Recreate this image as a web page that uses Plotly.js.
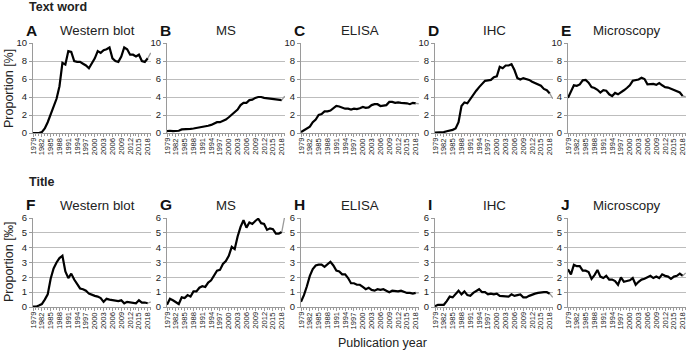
<!DOCTYPE html>
<html>
<head>
<meta charset="utf-8">
<script src="https://cdn.plot.ly/plotly-3.0.1.min.js"></script>
<style>html,body{margin:0;padding:0;background:#fff;}#chart{width:687px;height:350px;}</style>
</head>
<body>
<div id="chart"></div>
<script>
const years = [1979,1980,1981,1982,1983,1984,1985,1986,1987,1988,1989,1990,1991,1992,1993,1994,1995,1996,1997,1998,1999,2000,2001,2002,2003,2004,2005,2006,2007,2008,2009,2010,2011,2012,2013,2014,2015,2016,2017,2018,2019];
const tickYears = [1979,1982,1985,1988,1991,1994,1997,2000,2003,2006,2009,2012,2015,2018];

const panelLetters = ["A","B","C","D","E","F","G","H","I","J"];
const panelTitles = ["Western blot","MS","ELISA","IHC","Microscopy","Western blot","MS","ELISA","IHC","Microscopy"];
const sectionTitles = ["Text word","Title"];
const yAxisTitles = ["Proportion [%]","Proportion [‰]"];
const xAxisTitle = "Publication year";

// Text word, proportion [%]
const textWesternBlot = [0,0,0,0.1,0.5,1.2,2.1,3.0,3.8,5.2,7.8,7.6,9.1,9.0,8.0,7.9,7.9,7.7,7.5,7.2,7.7,8.3,9.1,8.9,9.2,9.3,9.5,8.3,8.0,7.9,8.5,9.5,9.3,8.7,8.7,8.5,8.7,8.0,7.9,8.3,8.9];
const textMS = [0.2,0.25,0.2,0.2,0.25,0.4,0.4,0.45,0.45,0.5,0.55,0.6,0.65,0.7,0.8,0.9,1.05,1.2,1.2,1.35,1.5,1.75,2.0,2.25,2.6,3.1,3.35,3.35,3.65,3.7,3.9,4.0,4.0,3.9,3.85,3.8,3.75,3.7,3.7,3.65,4.1];
const textELISA = [0.1,0.3,0.5,0.7,1.2,1.5,2.0,2.1,2.4,2.4,2.5,2.8,3.0,2.95,2.8,2.7,2.7,2.6,2.7,2.65,2.75,2.9,2.8,2.85,3.1,3.2,3.2,3.0,3.05,3.1,3.45,3.45,3.35,3.4,3.35,3.35,3.3,3.2,3.35,3.3,3.25];
const textIHC = [0.05,0.05,0.05,0.1,0.2,0.25,0.35,0.5,1.2,3.0,3.4,3.3,3.8,4.3,4.7,5.1,5.4,5.8,5.85,5.9,6.2,6.3,7.35,7.2,7.5,7.5,7.65,7.0,6.1,5.95,6.1,6.0,5.9,5.7,5.55,5.35,5.25,4.9,4.75,4.4,3.8];
const textMicroscopy = [3.9,4.7,5.3,5.25,5.4,5.85,5.9,5.6,5.1,5.0,4.8,4.5,4.75,4.7,4.3,4.1,4.45,4.3,4.5,4.75,5.0,5.3,5.8,5.85,5.95,6.15,6.0,5.4,5.4,5.45,5.35,5.55,5.3,5.1,5.05,4.9,4.8,4.6,4.5,4.1,4.05];

// Title, proportion [‰]
const titleWesternBlot = [0.02,0.02,0.1,0.2,0.5,0.85,1.9,2.6,3.0,3.3,3.45,2.4,1.95,2.25,1.85,1.55,1.25,1.2,1.1,0.9,0.8,0.75,0.7,0.6,0.35,0.55,0.5,0.45,0.4,0.4,0.45,0.25,0.35,0.3,0.25,0.25,0.45,0.3,0.3,0.25,0.35];
const titleMS = [0.15,0.55,0.45,0.3,0.2,0.65,0.6,0.8,0.7,1.05,1.05,1.3,1.4,1.35,1.65,1.8,2.1,2.45,2.5,2.9,3.1,3.45,4.05,3.9,4.75,5.4,5.85,5.35,5.7,5.6,5.8,5.95,5.65,5.6,5.2,5.3,5.25,4.95,4.95,5.05,6.1];
const titleELISA = [0.35,0.8,1.4,2.1,2.55,2.8,2.85,2.85,2.7,2.9,3.05,2.8,2.45,2.4,2.2,2.2,1.95,1.6,1.6,1.5,1.5,1.35,1.2,1.3,1.15,1.1,1.2,1.15,1.2,1.1,1.0,1.1,1.05,1.05,1.1,1.0,0.95,0.95,0.9,0.95,0.95];
const titleIHC = [0.05,0.15,0.15,0.15,0.4,0.7,0.65,0.9,1.1,0.85,1.05,0.8,0.75,0.95,1.05,1.2,1.0,1.0,0.85,0.9,0.85,0.9,0.75,0.75,0.75,0.7,0.85,0.75,0.8,0.85,0.65,0.65,0.75,0.85,0.9,0.95,1.0,1.0,1.0,0.9,0.65];
const titleMicroscopy = [2.55,2.2,2.85,2.75,2.75,2.45,2.45,2.35,1.9,2.15,2.5,2.05,1.95,2.1,1.85,1.85,1.75,1.5,2.0,1.7,1.75,1.8,1.95,1.5,1.7,1.85,1.9,2.0,2.1,1.95,2.05,1.95,2.2,2.1,2.05,1.9,2.05,2.1,2.25,2.1,2.3];

const seriesList = [textWesternBlot,textMS,textELISA,textIHC,textMicroscopy,titleWesternBlot,titleMS,titleELISA,titleIHC,titleMicroscopy];

// ---- layout geometry (pixels) ----
const W = 687, H = 350;
const colPx = [[33,151],[167,285],[301,419],[435,553],[568,686]];
const rowPx = [[43,133],[218,307]];
const yMax = [10,6], yDtick = [2,1];
const px = v => v / W;
const py = v => 1 - v / H;
const FONT = "Liberation Sans, Arial, sans-serif";
const GRID = "#bdbdbd";

const traces = [];
const layout = {
  width: W, height: H,
  margin: {l:0,r:0,t:0,b:0},
  paper_bgcolor: "#fff", plot_bgcolor: "#fff",
  showlegend: false,
  font: {family: FONT, color: "#222"},
  annotations: []
};

for (let i = 0; i < 10; i++) {
  const r = Math.floor(i / 5), c = i % 5;
  const n = i + 1;
  const xa = n === 1 ? "x" : "x" + n, ya = n === 1 ? "y" : "y" + n;
  const xk = n === 1 ? "xaxis" : "xaxis" + n, yk = n === 1 ? "yaxis" : "yaxis" + n;
  const vals = seriesList[i];
  const last = years.length - 1;
  traces.push({x: years.slice(0, last), y: vals.slice(0, last), xaxis: xa, yaxis: ya,
    type: "scatter", mode: "lines", line: {color: "#000", width: 2.2}, hoverinfo: "skip", cliponaxis: false});
  traces.push({x: years.slice(last - 1), y: vals.slice(last - 1), xaxis: xa, yaxis: ya,
    type: "scatter", mode: "lines", line: {color: "#9a9a9a", width: 1.3}, hoverinfo: "skip", cliponaxis: false});

  layout[xk] = {
    domain: [px(colPx[c][0]), px(colPx[c][1])],
    anchor: ya, range: [1979, 2019.1], fixedrange: true,
    tickmode: "array", tickvals: tickYears, showticklabels: false,
    ticks: "outside", ticklen: 3, tickcolor: "#9a9a9a", tickwidth: 1,
    minor: {dtick: 1, tick0: 1979, ticks: "outside", ticklen: 2, tickcolor: "#9a9a9a", showgrid: false},
    showline: true, linecolor: "#9a9a9a", linewidth: 1,
    showgrid: false, zeroline: false
  };
  layout[yk] = {
    domain: [py(rowPx[r][1]), py(rowPx[r][0])],
    anchor: xa, range: [0, yMax[r]], dtick: yDtick[r], tick0: 0, fixedrange: true,
    tickfont: {size: 9.5, family: FONT, color: "#222"},
    ticks: "outside", ticklen: 3, tickcolor: "#9a9a9a",
    showline: true, linecolor: "#9a9a9a", linewidth: 1,
    showgrid: true, gridcolor: GRID, gridwidth: 1, zeroline: false
  };

  // rotated year labels, positioned through the x axis scale
  tickYears.forEach(yr => {
    layout.annotations.push({xref: xa, yref: "paper", x: yr, y: py(rowPx[r][1] + 3),
      xanchor: "center", yanchor: "top", showarrow: false, textangle: -90,
      text: String(yr), font: {size: 7.6, family: FONT, color: "#222"}});
  });

  // panel letter
  layout.annotations.push({xref: "paper", yref: "paper", x: px(colPx[c][0] - 9), y: py(r === 0 ? 30 : 204),
    xanchor: "left", yanchor: "middle", showarrow: false, text: "<b>" + panelLetters[i] + "</b>",
    font: {size: 15.5, family: FONT, color: "#111"}});
  // panel title
  const cx = (colPx[c][0] + colPx[c][1]) / 2 + (c === 0 ? 5 : 0);
  layout.annotations.push({xref: "paper", yref: "paper", x: px(cx), y: py(r === 0 ? 31 : 205),
    xanchor: "center", yanchor: "middle", showarrow: false, text: panelTitles[i],
    font: {size: 13.3, family: FONT, color: "#222"}});
}

// section headers
layout.annotations.push({xref:"paper",yref:"paper",x:px(27),y:py(7),xanchor:"left",yanchor:"middle",showarrow:false,
  text:"<b>"+sectionTitles[0]+"</b>",font:{size:12.5,family:FONT,color:"#222"}});
layout.annotations.push({xref:"paper",yref:"paper",x:px(27),y:py(182),xanchor:"left",yanchor:"middle",showarrow:false,
  text:"<b>"+sectionTitles[1]+"</b>",font:{size:12.5,family:FONT,color:"#222"}});
// y-axis titles
layout.annotations.push({xref:"paper",yref:"paper",x:px(9),y:py(89),xanchor:"center",yanchor:"middle",showarrow:false,
  textangle:-90,text:yAxisTitles[0],font:{size:12.5,family:FONT,color:"#222"}});
layout.annotations.push({xref:"paper",yref:"paper",x:px(9),y:py(262),xanchor:"center",yanchor:"middle",showarrow:false,
  textangle:-90,text:yAxisTitles[1],font:{size:12.5,family:FONT,color:"#222"}});
// x-axis title
layout.annotations.push({xref:"paper",yref:"paper",x:px(382),y:py(343),xanchor:"center",yanchor:"middle",showarrow:false,
  text:xAxisTitle,font:{size:12.5,family:FONT,color:"#222"}});

Plotly.newPlot("chart", traces, layout, {staticPlot: true, displayModeBar: false});
</script>
</body>
</html>
